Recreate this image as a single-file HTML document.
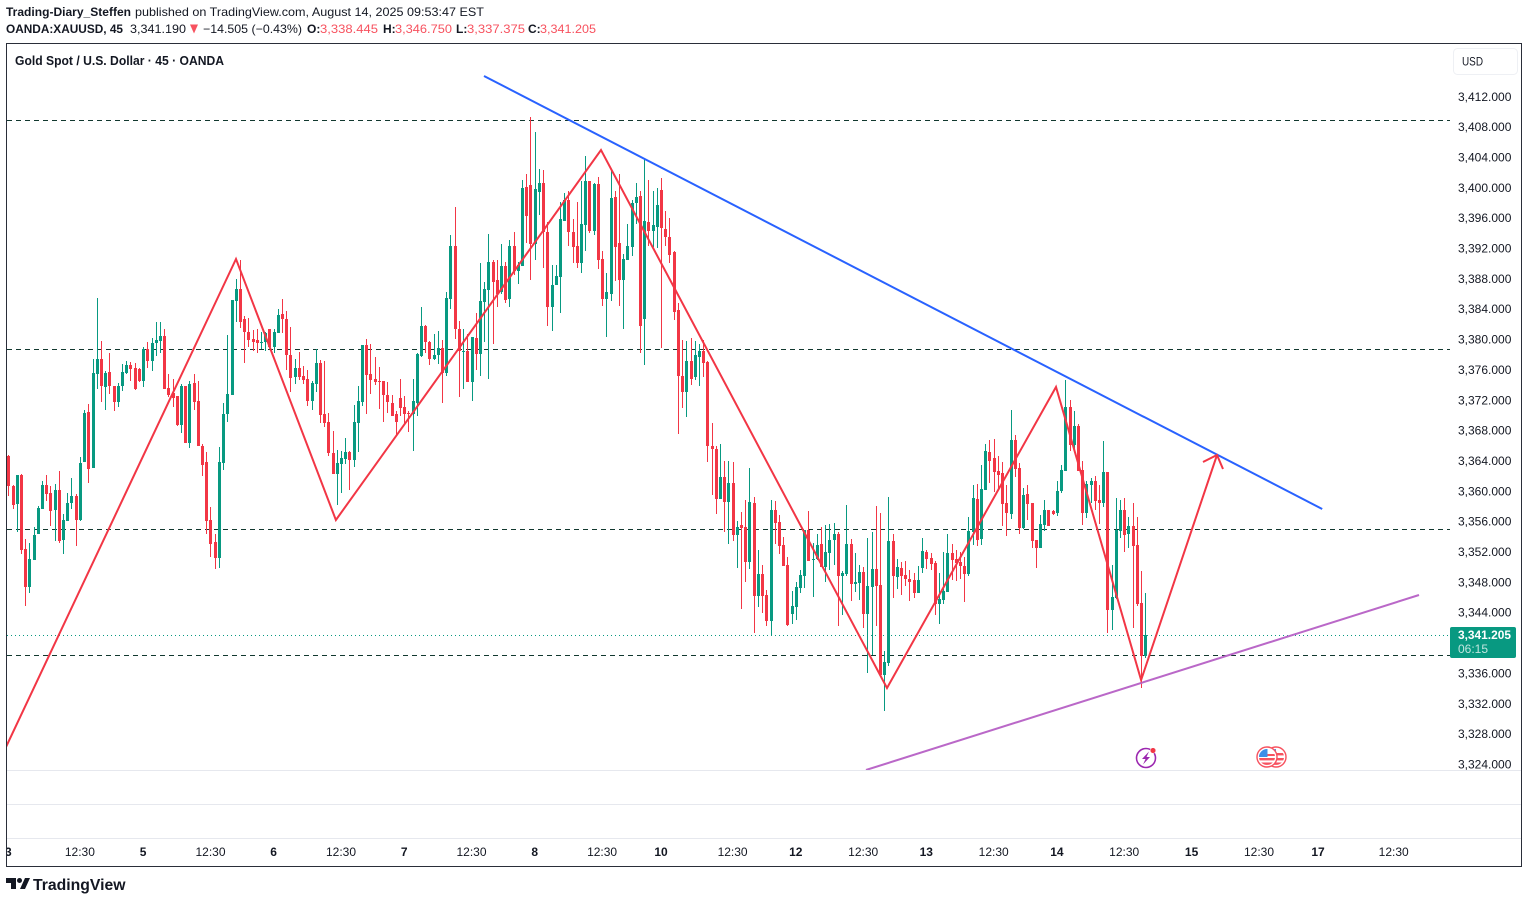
<!DOCTYPE html>
<html lang="en">
<head>
<meta charset="utf-8">
<title>Gold Spot / U.S. Dollar chart</title>
<style>
html,body{margin:0;padding:0;background:#fff;}
svg{display:block;font-family:"Liberation Sans",Arial,sans-serif;}
</style>
</head>
<body>
<svg id="chart" xmlns="http://www.w3.org/2000/svg" width="1528" height="903" viewBox="0 0 1528 903">
  <defs>
    <clipPath id="pane-clip"><rect x="7" y="44" width="1443" height="726"/></clipPath>
    <clipPath id="axis-clip"><rect x="7" y="840" width="1514" height="26"/></clipPath>
    <clipPath id="flag-clip-a"><circle cx="1267" cy="757" r="8"/></clipPath>
    <clipPath id="flag-clip-b"><circle cx="1276" cy="757" r="8"/></clipPath>
  </defs>
  <rect width="1528" height="903" fill="#fff"/>

  <g font-size="12" fill="#131722">
    <text x="6" y="16" font-weight="700" textLength="125" lengthAdjust="spacingAndGlyphs">Trading-Diary_Steffen</text>
    <text x="135" y="16" textLength="349" lengthAdjust="spacingAndGlyphs">published on TradingView.com, August 14, 2025 09:53:47 EST</text>
    <text x="6" y="33" font-weight="700" textLength="117" lengthAdjust="spacingAndGlyphs">OANDA:XAUUSD, 45</text>
    <text x="130" y="33" textLength="56" lengthAdjust="spacingAndGlyphs">3,341.190</text>
    <polygon points="190,24.5 198,24.5 194,33.5" fill="#f7525f"/>
    <text x="203" y="33" textLength="99" lengthAdjust="spacingAndGlyphs">−14.505 (−0.43%)</text>
    <text x="307" y="33" font-weight="700">O:</text>
    <text x="320" y="33" fill="#f7525f" textLength="58" lengthAdjust="spacingAndGlyphs">3,338.445</text>
    <text x="383" y="33" font-weight="700">H:</text>
    <text x="395" y="33" fill="#f7525f" textLength="57" lengthAdjust="spacingAndGlyphs">3,346.750</text>
    <text x="456" y="33" font-weight="700">L:</text>
    <text x="467" y="33" fill="#f7525f" textLength="58" lengthAdjust="spacingAndGlyphs">3,337.375</text>
    <text x="528" y="33" font-weight="700">C:</text>
    <text x="540" y="33" fill="#f7525f" textLength="56" lengthAdjust="spacingAndGlyphs">3,341.205</text>
  </g>

  <rect x="6.5" y="43.5" width="1515" height="823" fill="none" stroke="#2a2e39" stroke-width="1"/>
  <line x1="7" y1="770.5" x2="1521" y2="770.5" stroke="#e6e8ee"/>
  <line x1="7" y1="804.5" x2="1521" y2="804.5" stroke="#e6e8ee"/>
  <line x1="7" y1="838.5" x2="1521" y2="838.5" stroke="#e6e8ee"/>

  <text x="15" y="65" font-size="13" font-weight="700" fill="#131722" textLength="209" lengthAdjust="spacingAndGlyphs">Gold Spot / U.S. Dollar · 45 · OANDA</text>

  <g id="levels" clip-path="url(#pane-clip)"></g>
  <g id="candles" clip-path="url(#pane-clip)"></g>
  <g id="drawings" clip-path="url(#pane-clip)"></g>
  <g id="price-axis" font-size="12" fill="#131722"></g>
  <g id="time-axis" clip-path="url(#axis-clip)" font-size="12" fill="#131722" text-anchor="middle"></g>

  <g>
    <rect x="1453.5" y="48.5" width="64" height="26" rx="4" fill="#fff" stroke="#eef0f4"/>
    <text x="1462" y="65.5" font-size="12" fill="#131722" textLength="21" lengthAdjust="spacingAndGlyphs">USD</text>
  </g>

  <g id="price-tag"></g>

  <g>
    <circle cx="1146" cy="758" r="9.5" fill="#fff" stroke="#9c27b0" stroke-width="1.6"/>
    <polygon points="1149,751.5 1142,759 1145.5,759 1143,764.5 1150,757 1146.5,757" fill="#9c27b0"/>
    <circle cx="1153" cy="750.5" r="2.8" fill="#f23645" stroke="#fff" stroke-width="0.5"/>
  </g>
  <g>
    <g>
      <circle cx="1276" cy="757" r="10" fill="#fff" stroke="#f7525f" stroke-width="1.4"/>
      <g clip-path="url(#flag-clip-b)">
        <rect x="1268" y="749" width="16" height="16" fill="#fff"/>
        <rect x="1268" y="753" width="16" height="2.4" fill="#f7525f"/>
        <rect x="1268" y="758" width="16" height="2.4" fill="#f7525f"/>
        <rect x="1268" y="762.5" width="16" height="2.4" fill="#f7525f"/>
        <rect x="1268" y="749" width="8" height="7" fill="#3d8ee8"/>
      </g>
    </g>
    <g>
      <circle cx="1267" cy="757" r="10" fill="#fff" stroke="#f7525f" stroke-width="1.4"/>
      <g clip-path="url(#flag-clip-a)">
        <rect x="1259" y="749" width="16" height="16" fill="#fff"/>
        <rect x="1259" y="754" width="16" height="2" fill="#f7525f"/>
        <rect x="1259" y="758" width="16" height="2.4" fill="#f7525f"/>
        <rect x="1259" y="762.5" width="16" height="2.4" fill="#f7525f"/>
        <rect x="1259" y="749" width="8.5" height="8" fill="#3d8ee8"/>
      </g>
    </g>
  </g>

  <g>
    <path d="M6 878h10v11h-5v-6H6zM25 878h5l-5 11h-5z" fill="#131722"/>
    <circle cx="19.5" cy="880.5" r="2.5" fill="#131722"/>
    <text x="33" y="890" font-size="16" font-weight="700" fill="#131722" textLength="92.5" lengthAdjust="spacingAndGlyphs">TradingView</text>
  </g>
</svg>

<script>
const highs=[
3364.7,3360.8,3362.1,3362.3,3353.7,3353.1,3355.3,3358.0,3361.3,3362.1,
3360.7,3360.9,3362.6,3357.0,3359.7,3361.7,3359.6,3364.5,3370.7,3371.5,
3377.4,3385.4,3379.8,3375.8,3378.2,3373.9,3374.2,3376.7,3377.1,3377.0,
3376.9,3376.2,3379.0,3379.6,3380.2,3382.3,3382.3,3381.3,3375.4,3374.8,
3372.5,3374.1,3373.9,3374.5,3375.4,3374.5,3366.2,3365.1,3357.9,3354.3,
3365.8,3371.6,3380.6,3385.2,3387.9,3390.5,3383.1,3382.8,3381.2,3381.3,
3381.0,3381.0,3381.3,3381.3,3384.0,3385.3,3383.7,3381.6,3377.4,3378.3,
3376.5,3376.0,3374.5,3378.7,3377.3,3377.1,3370.3,3367.9,3365.4,3365.3,
3367.0,3365.3,3371.3,3373.8,3379.2,3380.0,3379.4,3377.7,3376.3,3374.5,
3374.4,3372.7,3370.5,3374.7,3372.5,3370.5,3374.8,3378.2,3384.3,3381.9,
3379.8,3380.7,3381.1,3379.9,3386.2,3393.8,3397.4,3382.4,3381.3,3380.7,
3380.3,3383.4,3390.0,3387.6,3393.9,3390.5,3390.5,3392.6,3390.2,3393.1,
3394.2,3390.2,3401.0,3401.8,3409.3,3407.3,3402.5,3402.3,3395.5,3389.8,
3389.8,3398.1,3399.3,3399.6,3395.8,3398.1,3400.8,3404.1,3400.9,3400.6,
3401.4,3391.7,3388.7,3402.5,3399.6,3401.8,3391.3,3395.2,3398.3,3400.6,
3399.6,3403.8,3401.0,3399.6,3399.9,3401.3,3396.9,3396.0,3391.7,3384.8,
3379.9,3379.8,3380.2,3379.8,3379.4,3379.9,3377.1,3368.9,3365.9,3366.2,
3364.0,3364.0,3363.8,3356.0,3357.2,3358.8,3363.0,3359.2,3352.2,3350.2,
3346.9,3358.8,3358.7,3356.8,3353.9,3351.3,3346.8,3348.0,3349.6,3354.9,
3357.4,3353.2,3354.3,3355.3,3355.5,3355.7,3355.8,3354.6,3349.4,3358.2,
3353.7,3351.8,3350.2,3350.0,3353.8,3354.6,3358.0,3357.1,3338.9,3359.2,
3354.3,3351.0,3350.6,3350.8,3349.6,3349.2,3350.1,3353.8,3352.2,3351.8,
3350.8,3349.2,3352.0,3354.3,3353.0,3352.2,3352.0,3351.3,3356.6,3360.8,
3360.9,3363.4,3366.2,3366.7,3366.9,3364.6,3363.8,3360.8,3370.7,3367.4,
3363.7,3360.4,3360.8,3358.4,3353.5,3356.8,3358.8,3357.5,3357.5,3361.3,
3363.4,3374.6,3372.0,3370.5,3368.8,3363.9,3361.3,3361.7,3362.0,3360.8,
3366.6,3362.5,3350.2,3359.1,3358.8,3359.1,3356.6,3358.4,3356.6,3349.5,3346.6];
const lows=[
3359.3,3357.6,3354.6,3351.7,3344.8,3346.6,3350.9,3354.3,3357.6,3358.7,
3355.4,3353.4,3353.1,3351.7,3356.0,3357.6,3352.8,3356.0,3363.8,3361.0,
3363.0,3373.4,3371.7,3370.7,3372.8,3370.5,3371.1,3373.2,3375.4,3374.5,
3373.3,3374.4,3373.7,3376.2,3375.8,3377.8,3378.2,3373.4,3372.4,3371.1,
3368.6,3367.6,3366.3,3365.7,3370.7,3365.9,3362.0,3354.3,3351.3,3349.7,
3349.9,3362.8,3369.1,3372.7,3382.3,3381.5,3376.9,3379.0,3378.4,3378.2,
3378.7,3378.4,3379.0,3378.2,3380.8,3380.8,3375.9,3373.0,3374.1,3374.6,
3374.1,3371.2,3370.7,3373.0,3368.9,3368.4,3364.6,3362.2,3358.2,3359.7,
3363.6,3360.1,3363.2,3365.1,3371.2,3370.1,3372.8,3374.0,3370.8,3369.1,
3370.3,3369.9,3367.3,3369.9,3368.7,3367.8,3365.3,3369.9,3377.7,3378.2,
3376.6,3377.3,3376.7,3371.6,3375.1,3384.0,3380.1,3372.4,3373.5,3374.4,
3371.8,3376.0,3375.1,3379.7,3374.7,3379.4,3384.3,3386.0,3384.8,3384.3,
3388.5,3387.3,3389.7,3392.7,3387.8,3390.4,3396.4,3389.4,3381.8,3381.1,
3387.1,3383.5,3395.6,3392.3,3390.0,3389.4,3388.8,3391.7,3394.0,3393.7,
3389.3,3384.4,3380.3,3385.1,3387.7,3384.4,3381.3,3390.5,3391.0,3395.2,
3378.2,3376.6,3392.3,3392.2,3392.0,3378.9,3392.3,3390.1,3382.6,3367.5,
3371.0,3369.8,3374.0,3374.6,3373.8,3375.0,3363.8,3359.5,3357.0,3358.9,
3354.6,3353.0,3353.4,3349.8,3344.5,3348.0,3349.7,3341.3,3344.7,3343.9,
3342.2,3341.0,3353.0,3351.7,3350.1,3342.2,3342.5,3343.0,3346.6,3347.2,
3350.8,3346.0,3350.9,3350.0,3348.0,3349.6,3350.2,3342.2,3343.7,3348.8,
3345.5,3346.7,3345.6,3341.9,3336.0,3338.4,3342.2,3335.7,3331.0,3336.9,
3345.9,3347.1,3346.3,3347.5,3345.5,3345.9,3346.6,3349.2,3349.7,3349.6,
3343.7,3342.5,3345.1,3346.7,3348.3,3348.1,3348.4,3345.4,3348.8,3352.9,
3352.8,3352.9,3360.1,3361.1,3359.9,3360.1,3355.4,3354.1,3356.3,3361.9,
3354.3,3355.0,3356.2,3352.5,3349.9,3352.5,3354.7,3355.4,3356.8,3356.7,
3359.7,3362.6,3365.3,3365.3,3362.6,3355.5,3356.4,3358.4,3357.5,3355.7,
3357.9,3341.3,3341.7,3345.8,3353.8,3352.0,3352.5,3341.9,3344.8,3334.0,3338.0];
const opens=[
3364.6,3360.7,3358.3,3362.1,3352.4,3347.4,3350.9,3354.3,3357.6,3360.8,
3359.7,3357.5,3360.1,3353.5,3356.0,3358.4,3359.3,3356.2,3363.8,3370.4,
3363.0,3375.4,3377.4,3373.7,3375.7,3373.8,3371.7,3373.8,3375.5,3376.6,
3376.2,3376.1,3374.5,3378.7,3377.1,3379.5,3379.8,3380.4,3373.6,3372.9,
3372.5,3368.7,3373.9,3366.3,3374.2,3371.9,3365.9,3363.8,3356.2,3353.3,
3351.2,3363.7,3370.1,3372.7,3385.0,3386.6,3382.7,3381.0,3380.0,3379.9,
3379.5,3379.6,3381.3,3379.0,3380.8,3383.3,3382.7,3377.9,3375.0,3376.2,
3375.2,3374.8,3371.9,3374.1,3376.9,3370.1,3369.1,3365.0,3362.2,3363.6,
3364.2,3365.1,3364.1,3368.9,3371.7,3379.2,3375.4,3374.8,3374.5,3374.5,
3372.6,3371.6,3370.1,3372.3,3371.1,3370.3,3370.1,3371.6,3377.8,3381.8,
3379.7,3377.4,3377.9,3378.9,3375.5,3385.3,3392.3,3381.4,3378.4,3378.5,
3374.4,3380.2,3378.1,3384.9,3386.5,3390.2,3387.8,3386.2,3389.7,3385.3,
3392.3,3389.0,3389.7,3400.1,3400.3,3392.6,3399.4,3400.6,3394.1,3384.3,
3387.1,3388.2,3395.6,3398.3,3394.2,3392.3,3390.0,3395.1,3400.9,3394.3,
3400.5,3390.6,3385.3,3386.0,3398.8,3392.7,3387.8,3390.5,3392.2,3397.9,
3398.9,3382.7,3395.5,3394.3,3394.8,3399.7,3394.5,3393.5,3391.5,3383.8,
3375.1,3373.1,3377.2,3375.0,3377.7,3378.5,3377.0,3366.0,3365.6,3358.9,
3361.9,3358.5,3361.0,3354.2,3355.5,3355.2,3350.6,3358.4,3346.2,3349.1,
3346.3,3342.9,3357.5,3355.9,3352.9,3350.2,3343.8,3344.7,3347.2,3348.8,
3354.9,3350.9,3351.0,3353.0,3350.0,3351.8,3353.5,3354.3,3348.8,3349.1,
3353.0,3347.7,3347.9,3349.3,3343.8,3347.3,3349.7,3347.6,3335.7,3337.3,
3353.4,3348.7,3349.8,3348.9,3348.4,3348.3,3346.6,3349.8,3352.0,3351.2,
3350.5,3345.1,3345.6,3346.7,3351.8,3351.0,3350.6,3350.1,3349.1,3354.6,
3358.9,3353.7,3360.1,3365.1,3364.4,3362.6,3362.4,3358.4,3357.0,3366.7,
3363.0,3355.1,3359.6,3358.4,3353.5,3352.5,3355.5,3357.5,3357.4,3357.1,
3360.0,3362.6,3371.1,3366.1,3368.6,3362.8,3357.1,3360.8,3361.3,3358.8,
3358.4,3362.5,3344.3,3345.9,3354.7,3357.5,3354.3,3355.4,3352.9,3345.2,3338.3];
const closes=[
3360.6,3358.2,3362.1,3352.2,3347.4,3351.0,3354.2,3357.8,3360.8,3359.6,
3357.4,3360.1,3353.4,3356.2,3358.4,3359.3,3356.2,3363.7,3370.3,3362.9,
3375.5,3377.4,3373.8,3375.5,3373.8,3371.7,3373.9,3375.7,3376.6,3376.1,
3373.4,3374.5,3378.7,3377.1,3379.5,3379.9,3380.4,3373.4,3372.7,3372.2,
3368.7,3373.9,3366.3,3374.1,3371.7,3365.9,3363.4,3356.0,3353.0,3351.2,
3363.8,3370.1,3372.8,3385.2,3386.6,3382.3,3381.0,3379.9,3379.6,3379.5,
3379.6,3380.8,3379.0,3381.0,3383.2,3382.7,3377.9,3374.9,3376.2,3375.0,
3374.6,3371.9,3374.2,3376.9,3370.0,3368.9,3365.0,3362.2,3363.7,3364.3,
3365.1,3364.1,3369.1,3371.9,3379.2,3375.3,3374.6,3374.4,3374.4,3372.6,
3371.7,3369.9,3369.1,3371.0,3370.2,3370.1,3371.8,3378.0,3381.8,3379.6,
3377.4,3377.9,3378.9,3375.6,3385.5,3392.3,3381.3,3378.4,3378.5,3374.4,
3380.3,3378.1,3385.1,3386.6,3390.2,3387.6,3386.0,3389.7,3385.2,3392.3,
3389.0,3389.8,3399.9,3396.3,3392.6,3399.8,3400.6,3394.1,3384.3,3387.2,
3388.4,3395.8,3398.3,3394.2,3392.2,3390.0,3395.2,3400.9,3394.3,3400.5,
3390.5,3385.3,3386.2,3398.6,3392.2,3387.8,3390.6,3392.3,3398.0,3398.8,
3381.7,3395.6,3394.3,3395.1,3397.7,3394.7,3393.5,3391.1,3383.6,3375.1,
3373.1,3377.2,3374.8,3377.9,3378.5,3376.9,3365.9,3365.5,3358.9,3361.9,
3358.5,3361.0,3354.2,3355.3,3355.1,3350.6,3358.5,3346.2,3349.1,3346.2,
3342.9,3357.5,3355.8,3352.8,3350.1,3342.3,3344.8,3347.3,3348.9,3354.9,
3350.8,3351.1,3352.9,3350.0,3352.0,3353.5,3354.3,3348.8,3349.2,3353.0,
3347.7,3348.0,3349.3,3343.8,3347.5,3349.7,3347.5,3335.7,3337.5,3353.4,
3348.8,3350.0,3348.8,3348.4,3348.0,3346.6,3348.3,3352.1,3351.0,3350.4,
3345.1,3345.8,3346.8,3351.8,3350.9,3350.5,3350.1,3349.1,3354.7,3359.1,
3353.5,3360.3,3365.3,3363.9,3362.5,3362.1,3358.3,3357.1,3366.7,3362.9,
3355.1,3359.5,3358.3,3353.4,3352.5,3355.7,3357.5,3355.4,3357.0,3360.0,
3362.8,3371.1,3366.1,3368.6,3362.6,3357.1,3360.9,3361.3,3358.7,3358.4,
3362.5,3344.3,3346.0,3354.9,3357.5,3354.2,3355.4,3352.7,3345.1,3338.3,3341.0];

const priceTicks=[3412,3408,3404,3400,3396,3392,3388,3384,3380,3376,3372,3368,3364,3360,3356,3352,3348,3344,3336,3332,3328,3324];
const timeTickBars=[0,17,32,48,63,79,94,110,125,141,155,172,187,203,218,234,249,265,281,297,311,329];
const timeTickLabels=["3","12:30","5","12:30","6","12:30","7","12:30","8","12:30","10","12:30","12","12:30","13","12:30","14","12:30","15","12:30","17","12:30"];
const levelPrices=[3408.86,3378.7,3355.0,3338.4];
const lastPrice=3341.0;
const lastPriceLabel="3,341.205";
const countdownLabel="06:15";
const zigzagBars=[-0.55,54.07,77.8,140.74,208.66,248.8,269.0,287.03];
const zigzagPrices=[3326.26,3390.58,3356.18,3404.95,3334.04,3373.71,3335.09,3364.75];
const arrowBars=[283.7,287.03,288.45];
const arrowPrices=[3363.83,3364.75,3362.9];
const resistanceBars=[112.96,312.0];
const resistancePrices=[3414.7,3357.63];
const supportBars=[203.67,335.0];
const supportPrices=[3323.23,3346.3];

const NS="http://www.w3.org/2000/svg";
const GREEN="#089981",RED="#f23645";
function xScale(bar){return 8.33+bar*4.211;}
function yScale(price){return 96.5+(3412-price)*7.587;}
function fmtPrice(p){return p.toFixed(3).replace(/^(\d)(\d{3})/,"$1,$2");}
function make(tag,attrs,parent){
  const el=document.createElementNS(NS,tag);
  for(const k in attrs)el.setAttribute(k,attrs[k]);
  parent.appendChild(el);
  return el;
}

const levels=document.getElementById("levels");
levelPrices.forEach(function(p){
  const y=Math.round(yScale(p))+0.5;
  const el=make("line",{x1:7,x2:1450,y1:y,y2:y,stroke:"#12382f","stroke-width":1,"stroke-dasharray":"5 4"},levels);
  
  
});
const lastY=Math.round(yScale(lastPrice))+0.5;
const lastLine=make("line",{x1:7,x2:1450,y1:lastY,y2:lastY,stroke:GREEN,"stroke-width":1,"stroke-dasharray":"1 3"},levels);



const candleGroup=document.getElementById("candles");
opens.forEach(function(o,i){
  const c=closes[i];
  const color=c>=o?GREEN:RED;
  const col=Math.round(xScale(i));
  const g=make("g",{},candleGroup);
  
  
  const hy=Math.round(yScale(highs[i]));
  const ly=Math.round(yScale(lows[i]));
  const wick=make("rect",{x:col,y:hy,width:1,height:Math.max(1,ly-hy),fill:color,"shape-rendering":"crispEdges"},g);
  
  
  const ty=Math.round(yScale(Math.max(o,c)));
  const by=Math.round(yScale(Math.min(o,c)));
  const body=make("rect",{x:col-1,y:ty,width:3,height:Math.max(1,by-ty),fill:color,"shape-rendering":"crispEdges"},g);
  
  
});

function pathFrom(bars,prices){
  return bars.map(function(b,i){return xScale(b).toFixed(1)+","+yScale(prices[i]).toFixed(1);}).join(" ");
}
const drawings=document.getElementById("drawings");
const resistance=make("polyline",{points:pathFrom(resistanceBars,resistancePrices),fill:"none",stroke:"#2962ff","stroke-width":2},drawings);


const support=make("polyline",{points:pathFrom(supportBars,supportPrices),fill:"none",stroke:"#ba68c8","stroke-width":2},drawings);


const zigzag=make("polyline",{points:pathFrom(zigzagBars,zigzagPrices),fill:"none",stroke:RED,"stroke-width":2,"stroke-linejoin":"miter"},drawings);


const arrow=make("polyline",{points:pathFrom(arrowBars,arrowPrices),fill:"none",stroke:RED,"stroke-width":2},drawings);



const priceAxis=document.getElementById("price-axis");
priceTicks.forEach(function(p){
  const t=make("text",{x:1458,y:(yScale(p)+4.3).toFixed(1)},priceAxis);
  
  
  t.textContent=fmtPrice(p);
});

const timeAxis=document.getElementById("time-axis");
timeTickBars.forEach(function(b,i){
  const isDay=timeTickLabels[i].indexOf(":")<0;
  const t=make("text",{x:xScale(b).toFixed(1),y:856,"font-weight":isDay?700:400},timeAxis);
  
  
  t.textContent=timeTickLabels[i];
});

const tag=document.getElementById("price-tag");
const tagBox=make("rect",{x:1450,y:lastY-8.5,width:66,height:31,rx:2,fill:GREEN},tag);


const tagPrice=make("text",{x:1458,y:lastY+3.5,"font-size":12,"font-weight":700,fill:"#fff",textLength:53,lengthAdjust:"spacingAndGlyphs"},tag);


tagPrice.textContent=lastPriceLabel;
const tagTime=make("text",{x:1458,y:lastY+17.5,"font-size":12,fill:"#fff","fill-opacity":0.75},tag);


tagTime.textContent=countdownLabel;
</script>
</body>
</html>
